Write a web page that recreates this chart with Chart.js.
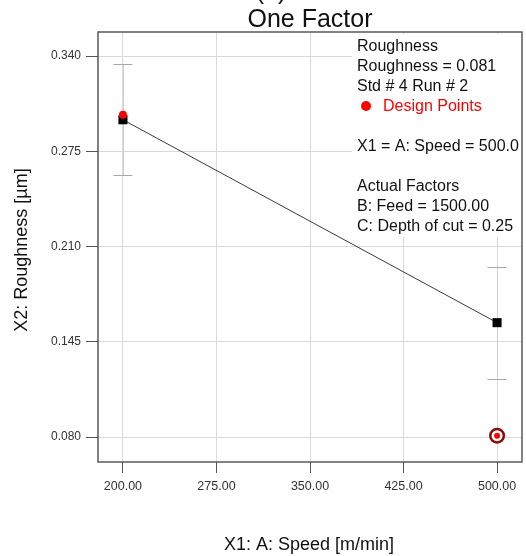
<!DOCTYPE html>
<html>
<head>
<meta charset="utf-8">
<script src="https://cdn.jsdelivr.net/npm/chart.js@4/dist/chart.umd.min.js"></script>
<style>
  html, body { margin: 0; padding: 0; background: #ffffff; }
  canvas { display: block; }
</style>
</head>
<body>
<canvas id="chart" width="526" height="556"></canvas>
<script>
// Speed levels and predicted roughness (one-factor effect plot)
const speedLevels = [200, 500];
const predictedRoughness = [0.2966, 0.1581];
// LSD interval around each prediction
const lsdLow = [0.2586, 0.1199];
const lsdHigh = [0.3345, 0.1963];
// Measured design points
const designSpeed = [200];
const designRoughness = [0.300];
// Selected run (Std # 4 Run # 2)
const selectedSpeed = [500];
const selectedRoughness = [0.081];
// Axis ticks
const xTicks = [200, 275, 350, 425, 500];
const yTicks = [0.080, 0.145, 0.210, 0.275, 0.340];
// Info box lines
const infoLines = [
  { text: 'Roughness', color: '#111' },
  { text: 'Roughness = 0.081', color: '#111' },
  { text: 'Std # 4 Run # 2', color: '#111' },
  { text: 'Design Points', color: '#ff0000', marker: true },
  { text: '', color: '#111' },
  { text: 'X1 = A: Speed = 500.0', color: '#111' },
  { text: '', color: '#111' },
  { text: 'Actual Factors', color: '#111' },
  { text: 'B: Feed = 1500.00', color: '#111' },
  { text: 'C: Depth of cut = 0.25', color: '#111' }
];
const chartTitle = 'One Factor';
const panelTag = '(b)';
const xTitle = 'X1: A: Speed [m/min]';
const yTitle = 'X2: Roughness [µm]';

const FONT = '"Liberation Sans", Arial, sans-serif';

const toPoints = (xs, ys) => xs.map((x, i) => ({ x: x, y: ys[i] }));
const noPadding = () => ({ left: 0, top: 0, right: 0, bottom: 0 });

const decorations = {
  id: 'decorations',
  beforeDatasetsDraw(chart) {
    const ctx = chart.ctx;
    const xs = chart.scales.x, ys = chart.scales.y;
    const area = chart.chartArea;
    ctx.save();
    // white backing for the info box
    ctx.fillStyle = '#ffffff';
    ctx.fillRect(352, area.top + 2, area.right - 353, 203);
    // LSD bars
    speedLevels.forEach((s, i) => {
      const px = xs.getPixelForValue(s);
      const top = ys.getPixelForValue(lsdHigh[i]);
      const bot = ys.getPixelForValue(lsdLow[i]);
      ctx.strokeStyle = '#d0d0d0';
      ctx.lineWidth = 1;
      ctx.beginPath();
      ctx.moveTo(Math.round(px) + 0.5, top);
      ctx.lineTo(Math.round(px) + 0.5, bot);
      ctx.stroke();
      ctx.strokeStyle = '#a8a8a8';
      ctx.beginPath();
      ctx.moveTo(px - 9.5, Math.round(top) + 0.5);
      ctx.lineTo(px + 9.5, Math.round(top) + 0.5);
      ctx.moveTo(px - 9.5, Math.round(bot) + 0.5);
      ctx.lineTo(px + 9.5, Math.round(bot) + 0.5);
      ctx.stroke();
    });
    ctx.restore();
  },
  afterDatasetsDraw(chart) {
    const ctx = chart.ctx;
    const area = chart.chartArea;
    ctx.save();
    // plot frame
    ctx.strokeStyle = '#5a5a5a';
    ctx.lineWidth = 1.5;
    ctx.strokeRect(area.left, area.top, area.right - area.left, area.bottom - area.top);

    // info box text
    ctx.font = '16px ' + FONT;
    ctx.textAlign = 'left';
    ctx.textBaseline = 'alphabetic';
    infoLines.forEach((ln, i) => {
      const y = 51 + i * 20;
      if (ln.marker) {
        ctx.fillStyle = '#ff0000';
        ctx.beginPath();
        ctx.arc(366, y - 5, 5, 0, Math.PI * 2);
        ctx.fill();
        ctx.fillStyle = ln.color;
        ctx.fillText(ln.text, 383, y);
      } else {
        ctx.fillStyle = ln.color;
        ctx.fillText(ln.text, 357, y);
      }
    });

    // titles
    ctx.fillStyle = '#111';
    ctx.textAlign = 'center';
    ctx.font = '25px ' + FONT;
    ctx.fillText(panelTag, 271, -1);
    ctx.fillText(chartTitle, 310, 27);
    ctx.font = '18px ' + FONT;
    ctx.fillText(xTitle, 309, 550);
    ctx.translate(27, 250);
    ctx.rotate(-Math.PI / 2);
    ctx.fillText(yTitle, 0, 0);
    ctx.restore();
  }
};

new Chart(document.getElementById('chart'), {
  type: 'scatter',
  data: {
    datasets: [
      {
        // selected run: ring marker, drawn in three layers
        data: toPoints(selectedSpeed, selectedRoughness),
        pointStyle: 'circle', pointRadius: 3, backgroundColor: '#ff0000',
        borderWidth: 0, order: 0
      },
      {
        data: toPoints(selectedSpeed, selectedRoughness),
        pointStyle: 'circle', pointRadius: 5.5, backgroundColor: '#ffffff',
        borderWidth: 0, order: 1
      },
      {
        data: toPoints(selectedSpeed, selectedRoughness),
        pointStyle: 'circle', pointRadius: 8, backgroundColor: '#8b0a0a',
        borderWidth: 0, order: 2
      },
      {
        // design points
        data: toPoints(designSpeed, designRoughness),
        pointStyle: 'circle', pointRadius: 4, backgroundColor: '#ff0000',
        borderWidth: 0, order: 3
      },
      {
        // predicted effect line
        data: toPoints(speedLevels, predictedRoughness),
        showLine: true, borderColor: '#3a3a3a', borderWidth: 1,
        pointStyle: 'rect', pointRadius: 6.4, pointBackgroundColor: '#000000',
        pointBorderWidth: 0, order: 4
      }
    ]
  },
  options: {
    responsive: false,
    animation: false,
    devicePixelRatio: 1,
    events: [],
    layout: { autoPadding: false, padding: { top: 32, right: 4, left: 0, bottom: 0 } },
    plugins: { legend: { display: false }, tooltip: { enabled: false }, title: { display: false } },
    scales: {
      x: {
        type: 'linear', min: 180, max: 520,
        afterBuildTicks: (scale) => { scale.ticks = xTicks.map(v => ({ value: v })); },
        afterFit: (scale) => {
          scale.height = 94;
          scale.getPadding = noPadding;
        },
        ticks: {
          callback: (v) => Number(v).toFixed(2),
          font: { family: FONT, size: 12.5 }, color: '#333', padding: 6,
          maxRotation: 0, autoSkip: false
        },
        grid: { color: '#d9d9d9', tickColor: '#555', tickLength: 11, lineWidth: 1 },
        border: { display: false }
      },
      y: {
        type: 'linear', min: 0.063, max: 0.3565,
        afterBuildTicks: (scale) => { scale.ticks = yTicks.map(v => ({ value: v })); },
        afterFit: (scale) => {
          scale.width = 98;
          scale.getPadding = noPadding;
        },
        ticks: {
          callback: (v) => Number(v).toFixed(3),
          font: { family: FONT, size: 12 }, color: '#333', padding: 5, autoSkip: false
        },
        grid: { color: '#d9d9d9', tickColor: '#555', tickLength: 12, lineWidth: 1 },
        border: { display: false }
      }
    }
  },
  plugins: [decorations]
});
</script>
</body>
</html>
